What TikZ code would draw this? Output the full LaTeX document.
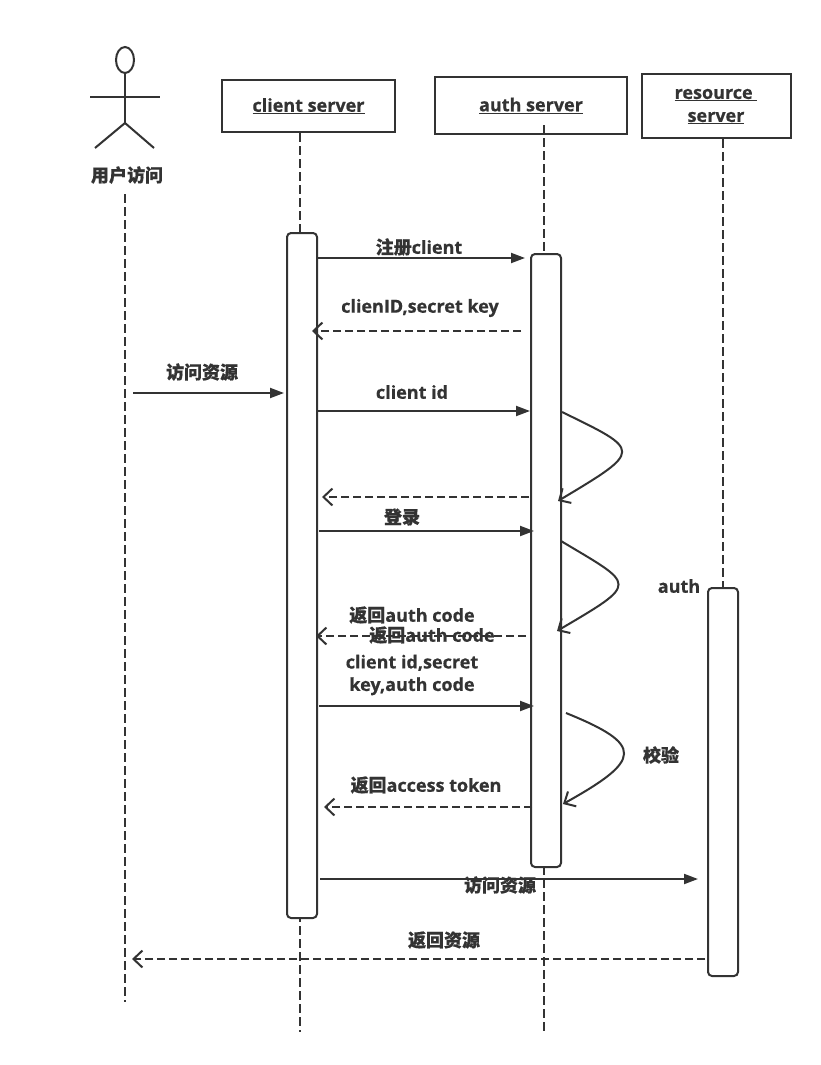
\documentclass[tikz,border=0pt]{standalone}
\usepackage{fontspec}
\setmainfont{Open Sans}[BoldFeatures={FakeBold=0.6}]
\newfontfamily\cjkf{Noto Sans CJK SC}[BoldFeatures={FakeBold=0.6}]
\newcommand\zhx[1]{{\cjkf #1}}
\usetikzlibrary{arrows.meta,shapes.geometric}
\definecolor{ink}{HTML}{333333}
\begin{document}
\begin{tikzpicture}[x=1pt,y=-1pt,
  ln/.style={draw=ink, line width=2pt},
  lifeline/.style={draw=ink, line width=2pt, dash pattern=on 8.5pt off 4.5pt},
  msg/.style={draw=ink, line width=2pt, -{Triangle[length=14pt,width=10pt]}},
  ret/.style={draw=ink, line width=2pt, dash pattern=on 8pt off 4pt, -{Straight Barb[length=9pt,width=17pt]}},
  selfloop/.style={draw=ink, line width=2pt, -{Straight Barb[length=9pt,width=17pt]}},
  obj/.style={draw=ink, line width=2pt, fill=white, inner sep=0, anchor=north west},
  act/.style={draw=ink, line width=2pt, fill=white, rounded corners=4pt, inner sep=0, anchor=north west, minimum width=30pt},
  lbl/.style={text=ink, font=\fontsize{18}{22.5}\selectfont\bfseries, inner sep=0, align=center}]
\useasboundingbox[fill=white] (0,0) rectangle (821,1065);

% actor
\node[draw=ink, line width=2pt, ellipse, minimum width=18pt, minimum height=26pt, inner sep=0] (head) at (125,60) {};
\coordinate (hip) at (125,123);
\coordinate (armL) at (90,97);
\coordinate (armR) at (160,97);
\coordinate (footL) at (95,148);
\coordinate (footR) at (154,148);
\draw[ln] (head.south) -- (hip);
\draw[ln] (armL) -- (armR);
\draw[ln] (footL) -- (hip) -- (footR);
\node[lbl] (user) at (127,175) {\zhx{用户访问}};

% objects
\node[obj, minimum width=173pt, minimum height=52pt] (cs) at (221,79) {};
\node[lbl] at (cs.center) {\underline{client server}};
\node[obj, minimum width=192pt, minimum height=57pt] (as) at (434,76) {};
\node[lbl] at (as.center) {\underline{auth server}};
\node[obj, minimum width=149pt, minimum height=64pt] (rs) at (641,73) {};
\node[lbl] (rsl1) at (716,95) {\underline{resource\ }};
\node[lbl] (rsl2) at (716,118) {\underline{server}};

% lifelines
\coordinate (uTop) at (125,194);
\coordinate (uBot) at (125,1002);
\coordinate (cTop) at (300,133);
\coordinate (cBot) at (300,1032);
\coordinate (aTop) at (544,125);
\coordinate (aBot) at (544,1032);
\coordinate (rTop) at (723,139);
\coordinate (rBot) at (723,587);
\draw[lifeline] (uTop) -- (uBot);
\draw[lifeline] (cTop) -- (cBot);
\draw[lifeline] (aTop) -- (aBot);
\draw[lifeline] (rTop) -- (rBot);

% activations
\node[act, minimum height=685pt] (actC) at (286,232) {};
\node[act, minimum height=613pt] (actA) at (530,253) {};
\node[act, minimum height=388pt] (actR) at (707,587) {};
\node[lbl] (authl) at (679,586) {auth};

% messages
\coordinate (m1s) at (318,258);  \coordinate (m1e) at (525,258);
\draw[msg] (m1s) -- (m1e);
\node[lbl] (t1) at (419,247) {\zhx{注册}client};

\coordinate (m2s) at (521,331);  \coordinate (m2e) at (312,331);
\draw[ret] (m2s) -- (m2e);
\node[lbl] (t2) at (420,308) {clienID,secret key};

\coordinate (m3s) at (133,393);  \coordinate (m3e) at (284,393);
\draw[msg] (m3s) -- (m3e);
\node[lbl] (t3) at (202,372) {\zhx{访问资源}};

\coordinate (m4s) at (317,411);  \coordinate (m4e) at (530,411);
\draw[msg] (m4s) -- (m4e);
\node[lbl] (t4) at (412,392) {client id};

\coordinate (l1s) at (562,412);  \coordinate (l1e) at (558,501);
\draw[selfloop] (l1s) .. controls (642,451) and (643,450) .. (l1e);

\coordinate (m6s) at (529,497);  \coordinate (m6e) at (322,497);
\draw[ret] (m6s) -- (m6e);

\coordinate (m7s) at (319,531);  \coordinate (m7e) at (534,531);
\draw[msg] (m7s) -- (m7e);
\node[lbl] (t7) at (402,517) {\zhx{登录}};

\coordinate (l2s) at (561,541);  \coordinate (l2e) at (557,631);
\draw[selfloop] (l2s) .. controls (636,586) and (640,582) .. (l2e);

\coordinate (m9s) at (526,636);  \coordinate (m9e) at (316,636);
\draw[ret] (m9s) -- (m9e);
\node[lbl] (t9a) at (412,615) {\zhx{返回}auth code};
\node[lbl] (t9b) at (432,635) {\zhx{返回}auth code};

\coordinate (m10s) at (319,706);  \coordinate (m10e) at (534,706);
\draw[msg] (m10s) -- (m10e);
\node[lbl] (t10) at (412,675) {client id,secret\\key,auth code};

\coordinate (l3s) at (566,713);  \coordinate (l3e) at (563,804);
\draw[selfloop] (l3s) .. controls (645,745) and (642,760) .. (l3e);
\node[lbl] (t11) at (661,755) {\zhx{校验}};

\coordinate (m12s) at (532,807);  \coordinate (m12e) at (324,807);
\draw[ret] (m12s) -- (m12e);
\node[lbl] (t12) at (426,785) {\zhx{返回}access token};

\coordinate (m13s) at (320,879);  \coordinate (m13e) at (698,879);
\draw[msg] (m13s) -- (m13e);
\node[lbl] (t13) at (500,885) {\zhx{访问资源}};

\coordinate (m14s) at (705,959);  \coordinate (m14e) at (132,959);
\draw[ret] (m14s) -- (m14e);
\node[lbl] (t14) at (444,940) {\zhx{返回资源}};
\end{tikzpicture}
\end{document}
